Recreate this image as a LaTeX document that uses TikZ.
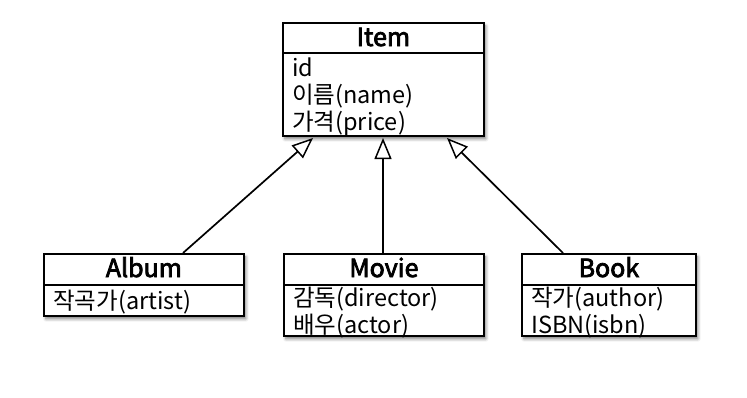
\documentclass[tikz,border=0pt]{standalone}
\usepackage{fontspec}
\setmainfont{Noto Sans CJK KR}
\newfontfamily\titlefnt[FakeBold=3]{Noto Sans CJK KR}
\usetikzlibrary{arrows.meta,shadows.blur}
\begin{document}
\begin{tikzpicture}[x=1pt,y=-1pt,
  classbox/.style={draw=black, line width=1.8pt, fill=white, anchor=north west, inner sep=0pt,
    blur shadow={shadow xshift=2pt, shadow yshift=-3pt, shadow blur steps=6, shadow opacity=50, shadow blur radius=3pt}},
  classtitle/.style={anchor=base, inner sep=0pt, font=\titlefnt\fontsize{25}{27}\selectfont},
  attrs/.style={anchor=base west, inner sep=0pt, align=left, font=\fontsize{23.5}{27}\selectfont},
  divider/.style={line width=1.8pt},
  inherit/.style={line width=1.7pt, -{Triangle[open, length=21pt, width=17pt, line width=1.5pt, fill=white]}}
]
\useasboundingbox (0,0) rectangle (747,397);
% Item
\node[classbox, minimum width=201pt, minimum height=113pt] (item) at (282,22) {};
\node[classtitle] (itemT) at ([yshift=-24pt]item.north) {Item};
\draw[divider] ([yshift=-31pt]item.north west) -- ([yshift=-31pt]item.north east);
\node[attrs] (itemA) at ([xshift=10pt,yshift=-108pt]item.north west) {id\\이름(name)\\가격(price)};
% Album
\node[classbox, minimum width=200pt, minimum height=62pt] (album) at (43,253) {};
\node[classtitle] (albumT) at ([yshift=-24pt]album.north) {Album};
\draw[divider] ([yshift=-32pt]album.north west) -- ([yshift=-32pt]album.north east);
\node[attrs] (albumA) at ([xshift=10pt,yshift=-56pt]album.north west) {작곡가(artist)};
% Movie
\node[classbox, minimum width=200pt, minimum height=82pt] (movie) at (283,253) {};
\node[classtitle] (movieT) at ([yshift=-24pt]movie.north) {Movie};
\draw[divider] ([yshift=-32pt]movie.north west) -- ([yshift=-32pt]movie.north east);
\node[attrs] (movieA) at ([xshift=10pt,yshift=-80pt]movie.north west) {감독(director)\\배우(actor)};
% Book
\node[classbox, minimum width=174pt, minimum height=82pt] (book) at (521,253) {};
\node[classtitle] (bookT) at ([yshift=-24pt]book.north) {Book};
\draw[divider] ([yshift=-32pt]book.north west) -- ([yshift=-32pt]book.north east);
\node[attrs] (bookA) at ([xshift=10pt,yshift=-80pt]book.north west) {작가(author)\\ISBN(isbn)};
% connectors
\coordinate (tipA) at (313,138);
\coordinate (tipM) at (383,138);
\coordinate (tipB) at (447,138);
\coordinate (srcA) at (183,253);
\coordinate (srcB) at (563,253);
\draw[inherit] (srcA) -- (tipA);
\draw[inherit] (movie.north -| tipM) -- (tipM);
\draw[inherit] (srcB) -- (tipB);
\end{tikzpicture}
\end{document}
